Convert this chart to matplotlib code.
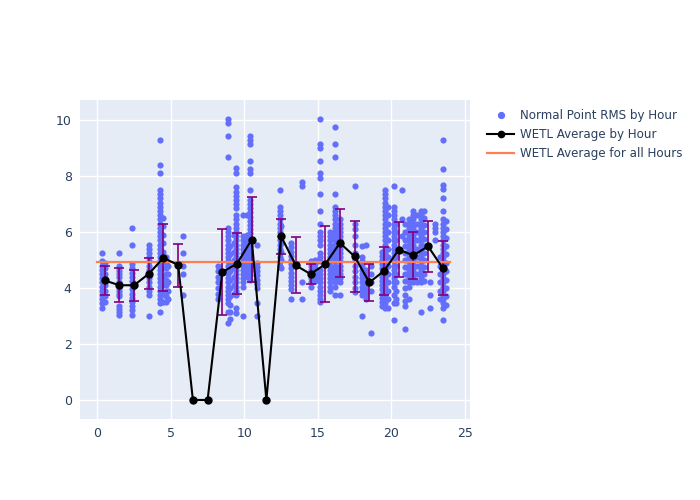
import numpy as np
import matplotlib
matplotlib.use('Agg')
import matplotlib.pyplot as plt
from matplotlib.lines import Line2D

# scatter columns: hour position and the RMS values seen at that position
col_hours = [0.35, 0.5, 1.5, 2.35, 3.5, 4.25, 4.45, 4.65, 4.8, 5.85,
             8.2, 8.9, 9.05, 9.3, 9.45, 9.9, 10.15, 10.4, 10.85,
             12.4, 12.5, 13.2, 13.9, 14.5, 14.8, 15.15, 15.8, 16.2, 16.5, 17.5,
             18.0, 18.3, 18.6, 19.35, 19.6, 19.75, 20.15, 20.35, 20.7, 20.9,
             21.2, 21.5, 21.75, 22.05, 22.25, 22.65, 23.0, 23.3, 23.5, 23.7]
col_values = [
    [5.25, 4.95, 4.8, 4.65, 4.5, 4.35, 4.2, 4.05, 3.9, 3.75, 3.6, 3.45, 3.3],
    [4.9, 4.7, 4.5, 4.3, 4.1, 3.9, 3.7, 3.5],
    [5.25, 4.8, 4.7, 4.6, 4.5, 4.4, 4.2, 4.1, 4.0, 3.9, 3.8, 3.7, 3.35, 3.25, 3.15, 3.05],
    [6.15, 5.55, 4.85, 4.7, 4.55, 4.4, 4.25, 4.1, 3.95, 3.8, 3.65, 3.5, 3.35, 3.2, 3.05],
    [5.55, 5.4, 5.25, 5.1, 4.95, 4.8, 4.65, 4.5, 4.35, 4.2, 4.05, 3.9, 3.75, 3.0],
    [9.3, 8.4, 8.1, 7.5, 7.35, 7.2, 7.05, 6.9, 6.75, 6.6, 6.45, 6.3, 6.15, 6.0, 5.85, 5.7,
     5.55, 5.4, 5.25, 5.1, 4.95, 4.8, 4.65, 4.5, 4.35, 4.2, 4.05, 3.9, 3.75, 3.6, 3.45, 3.15],
    [6.5, 6.2, 5.9, 5.6, 5.3, 5.0, 4.7, 4.4, 4.1, 3.8, 3.5],
    [5.1, 4.9, 4.7, 4.5, 4.3, 4.1, 3.9, 3.7, 3.5],
    [4.8, 4.5, 4.2, 3.9, 3.6],
    [5.85, 5.25, 4.8, 4.5, 3.75],
    [4.8, 4.6, 4.4, 4.2, 4.0, 3.8, 3.6],
    [10.05, 9.9, 9.45, 8.7, 6.15, 6.0, 5.85, 5.7, 5.55, 5.4, 5.25, 5.1, 4.95, 4.8, 4.65,
     4.5, 4.35, 4.2, 4.05, 3.9, 3.75, 3.6, 3.45, 3.15, 2.75],
    [5.5, 5.2, 4.9, 4.6, 4.3, 4.0, 3.7, 3.4, 3.15, 2.9],
    [5.9, 5.6, 5.3, 5.0, 4.7, 4.4, 4.1, 3.8],
    [8.3, 8.1, 7.6, 7.45, 7.3, 7.15, 7.0, 6.85, 6.6, 6.45, 6.3, 6.15, 6.0, 5.85, 5.7, 5.55,
     5.4, 5.25, 5.1, 4.95, 4.8, 4.65, 4.5, 4.35, 4.2, 4.05, 3.9, 3.75, 3.3, 3.1],
    [6.6, 5.85, 5.7, 5.55, 5.4, 5.25, 5.1, 4.95, 4.8, 4.65, 4.5, 4.35, 4.2, 4.05, 3.0],
    [6.6, 5.9, 5.75, 5.6, 5.45, 5.3, 5.15, 5.0, 4.85, 4.7, 4.55, 4.4],
    [9.45, 9.3, 9.15, 8.55, 8.25, 8.1, 7.5, 7.15, 7.0, 6.85, 6.7, 6.55, 6.4, 6.25, 6.1,
     5.95, 5.8, 5.65, 5.5, 5.35, 5.2, 5.05, 4.9, 4.75, 4.6, 4.45, 4.3],
    [5.55, 4.9, 4.75, 4.6, 4.45, 4.3, 4.15, 4.0, 3.45, 3.0],
    [7.5, 6.9, 6.75, 6.6, 6.45, 6.3, 6.15, 6.0, 5.85, 5.7, 5.55, 5.4, 5.25, 5.1, 4.95, 4.8],
    [6.2, 5.9, 5.6, 5.3, 5.0, 4.7],
    [5.6, 5.45, 5.3, 5.15, 5.0, 4.85, 4.7, 4.55, 4.4, 4.25, 4.1, 3.95, 3.6],
    [7.8, 7.65, 4.2, 3.6],
    [4.95, 4.8, 4.65, 4.5, 4.35, 4.2, 4.05],
    [5.0, 4.85, 4.7, 4.55, 4.4, 4.25],
    [10.05, 9.15, 9.0, 8.55, 8.1, 7.95, 7.35, 6.75, 6.3, 6.0, 5.85, 5.7, 5.55, 5.25, 5.1,
     4.95, 4.65, 4.5, 4.35, 4.2, 4.05, 3.9, 3.75, 3.6, 3.5],
    [6.0, 5.85, 5.7, 5.55, 5.4, 5.25, 5.1, 4.95, 4.8, 4.65, 4.5, 4.35, 4.2, 4.05, 3.9],
    [9.75, 9.15, 8.7, 7.35, 6.9, 6.75, 6.6, 6.45, 6.3, 6.15, 6.0, 5.85, 5.7, 5.55, 5.4,
     5.25, 5.1, 4.95, 4.8, 4.65, 4.5, 4.35, 4.2, 4.05, 3.75],
    [6.45, 6.3, 6.15, 6.0, 5.85, 5.7, 5.55, 5.4, 5.25, 5.1, 4.95, 4.8, 4.65, 4.5, 4.35, 4.2, 3.75],
    [7.65, 6.3, 6.1, 5.85, 5.55, 5.25, 5.0, 4.8, 4.6, 4.4, 4.2, 4.0, 3.85],
    [5.5, 5.1, 4.95, 4.8, 4.65, 4.5, 4.35, 4.2, 4.05, 3.9, 3.75, 3.0],
    [5.55, 4.65, 4.5, 4.35, 4.2, 4.05, 3.9, 3.75, 3.6],
    [4.8, 4.5, 4.2, 3.9, 2.4],
    [5.3, 5.15, 5.0, 4.85, 4.7, 4.55, 4.4, 4.25, 4.1, 3.95, 3.8, 3.65, 3.5, 3.35],
    [7.5, 7.35, 7.2, 7.05, 6.9, 6.75, 6.6, 6.45, 6.3, 6.15, 6.0, 5.85, 5.7, 5.55, 5.4, 5.25,
     5.1, 4.95, 4.8, 4.65, 4.5, 4.35, 4.2, 4.05, 3.9, 3.75, 3.6, 3.45, 3.3],
    [6.9, 6.6, 6.3, 6.0, 5.7, 5.4, 5.1, 4.8, 4.5, 4.2, 3.9, 3.6, 3.3],
    [7.65, 6.9, 6.75, 6.6, 6.45, 6.3, 6.15, 6.0, 5.85, 5.7, 5.55, 5.4, 5.25, 5.1, 4.95, 4.8,
     4.65, 4.5, 4.35, 4.2, 4.05, 3.75, 3.45, 2.85],
    [6.3, 6.0, 5.7, 5.4, 5.1, 4.8, 4.5, 4.2, 3.9, 3.6, 3.45],
    [7.5, 6.45, 5.85],
    [6.3, 6.0, 5.7, 5.5, 5.25, 5.0, 4.75, 4.5, 4.25, 4.0, 3.75, 3.55, 3.35, 2.55],
    [6.45, 6.3, 6.15, 6.0, 5.85, 5.7, 5.55, 5.4, 5.25, 5.1, 4.95, 4.8, 4.65, 4.5, 4.35, 4.2, 4.05, 3.6],
    [6.75, 6.6, 6.45, 6.3, 6.15, 6.0, 5.85, 5.7, 5.55, 5.4, 5.25, 5.1, 4.95, 4.8, 4.65, 4.5, 4.35, 4.2],
    [6.6, 6.3, 6.0, 5.7, 5.4, 5.1, 4.8, 4.5, 4.2],
    [6.75, 6.6, 6.45, 6.3, 6.15, 6.0, 5.85, 5.7, 5.55, 5.4, 5.25, 5.1, 4.95, 4.8, 4.65, 4.5,
     4.35, 4.2, 3.15],
    [6.75, 6.5, 6.25, 6.0, 5.75, 5.5, 5.25, 5.0, 4.75, 4.5, 4.25],
    [4.2, 3.75, 3.3],
    [6.3, 6.15, 6.0, 5.7],
    [5.1, 4.8, 4.5, 4.2, 3.9, 3.6],
    [9.3, 8.25, 7.7, 7.55, 7.2, 6.75, 6.45, 6.3, 6.15, 6.0, 5.85, 5.7, 5.55, 5.4, 5.25, 5.1,
     4.95, 4.8, 4.65, 4.5, 4.35, 4.2, 4.05, 3.9, 3.75, 3.6, 3.45, 3.3, 2.85],
    [6.4, 6.1, 5.8, 5.5, 5.2, 4.9, 4.6, 4.3, 4.0, 3.7, 3.4],
]

hours = [0.5, 1.5, 2.5, 3.5, 4.5, 5.5, 6.5, 7.5, 8.5, 9.5, 10.5, 11.5,
         12.5, 13.5, 14.5, 15.5, 16.5, 17.5, 18.5, 19.5, 20.5, 21.5, 22.5, 23.5]
hour_avg = [4.27, 4.10, 4.10, 4.51, 5.08, 4.82, 0, 0, 4.57, 4.87, 5.73, 0,
            5.85, 4.81, 4.50, 4.85, 5.61, 5.13, 4.20, 4.61, 5.37, 5.17, 5.49, 4.71]
hour_std = [0.52, 0.60, 0.55, 0.56, 1.20, 0.77, np.nan, np.nan, 1.53, 1.10, 1.53, np.nan,
            0.63, 1.00, 0.37, 1.36, 1.20, 1.28, 0.67, 0.86, 0.99, 0.84, 0.90, 0.96]
overall_avg = 4.92
overall_span = [0, 24]

pts_x = []
pts_y = []
for h, vals in zip(col_hours, col_values):
    pts_x += [h] * len(vals)
    pts_y += vals

fig = plt.figure(figsize=(7, 5), dpi=100)
ax = fig.add_axes([80 / 700, 1 - 419 / 500, 390 / 700, 319 / 500])
ax.set_facecolor('#E5ECF6')

ax.scatter(pts_x, pts_y, s=20, color='#636efa', linewidths=0, zorder=2)

# error bars only where there is a std
eh = [h for h, s in zip(hours, hour_std) if not np.isnan(s)]
ea = [a for a, s in zip(hour_avg, hour_std) if not np.isnan(s)]
es = [s for s in hour_std if not np.isnan(s)]
ax.errorbar(eh, ea, yerr=es, fmt='none', ecolor='purple', elinewidth=1.2,
            capsize=3.5, capthick=1.2, zorder=3)

ax.plot(hours, hour_avg, color='black', lw=1.5, marker='o', ms=5, zorder=4)
ax.plot(overall_span, [overall_avg, overall_avg], color='#ff7f50', lw=1.6, zorder=3)

ax.set_xlim(-1.18, 25.35)
ax.set_ylim(-0.68, 10.72)
ax.set_xticks([0, 5, 10, 15, 20, 25])
ax.set_yticks([0, 2, 4, 6, 8, 10])
ax.grid(color='white', lw=1)
ax.set_axisbelow(True)
for sp in ax.spines.values():
    sp.set_visible(False)
ax.tick_params(length=0, labelsize=9, colors='#2a3f5f', pad=6)

handles = [
    Line2D([], [], ls='none', marker='o', ms=4.2, color='#636efa'),
    Line2D([], [], color='black', lw=1.5, marker='o', ms=4.5),
    Line2D([], [], color='#ff7f50', lw=1.6),
]
labels = ['Normal Point RMS by Hour', 'WETL Average by Hour', 'WETL Average for all Hours']
fig.legend(handles, labels, loc='upper left', bbox_to_anchor=(482 / 700, 1 - 104 / 500),
           frameon=False, fontsize=8.6, labelcolor='#2a3f5f', handlelength=2.3,
           handletextpad=0.5, labelspacing=0.5, borderaxespad=0)

fig.savefig('out.png', dpi=100)
